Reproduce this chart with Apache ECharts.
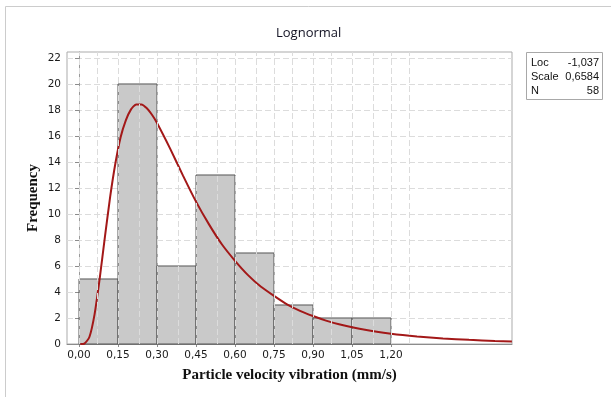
<!DOCTYPE html>
<html>
<head>
<meta charset="utf-8">
<script src="https://cdn.jsdelivr.net/npm/echarts@6/dist/echarts.min.js"></script>
<style>
  html, body { margin: 0; padding: 0; background: #fff; }
  #chart { width: 611px; height: 397px; }
</style>
</head>
<body>
<div id="chart"></div>
<script>
// histogram bins (mm/s) and counts
const binEdges = [0, 0.15, 0.30, 0.45, 0.60, 0.75, 0.90, 1.05, 1.20];
const binCounts = [5, 20, 6, 13, 7, 3, 2, 2];

// fitted lognormal curve
const curveX = [0.005, 0.02, 0.04, 0.06, 0.08, 0.10, 0.12, 0.14, 0.16, 0.18, 0.20, 0.22, 0.24, 0.26, 0.28, 0.30,
  0.35, 0.40, 0.45, 0.50, 0.55, 0.60, 0.65, 0.70, 0.75, 0.80, 0.85, 0.90, 0.95, 1.00, 1.10, 1.20, 1.30, 1.40, 1.50, 1.60, 1.665];
const curveY = [0, 0.02, 0.54, 2.3, 5.1, 8.3, 11.35, 13.9, 15.9, 17.2, 18.05, 18.43, 18.43, 18.15, 17.65, 17.0,
  15.05, 12.95, 10.95, 9.2, 7.65, 6.4, 5.3, 4.4, 3.7, 3.05, 2.55, 2.15, 1.8, 1.52, 1.09, 0.79, 0.58, 0.43, 0.32, 0.24, 0.2];

const xTickValues = [0, 0.15, 0.30, 0.45, 0.60, 0.75, 0.90, 1.05, 1.20];
const xTickLabels = ["0,00", "0,15", "0,30", "0,45", "0,60", "0,75", "0,90", "1,05", "1,20"];
const yTickValues = [0, 2, 4, 6, 8, 10, 12, 14, 16, 18, 20, 22];

const statLabels = ["Loc", "Scale", "N"];
const statValues = ["-1,037", "0,6584", "58"];

const bars = binCounts.map((c, i) => [binEdges[i], binEdges[i + 1], c]);
const curve = curveX.map((x, i) => [x, curveY[i]]);

// dashed vertical grid every 0.075 up to 1.275
const vGrid = [];
for (let i = 0; i <= 17; i++) vGrid.push({ xAxis: +(i * 0.075).toFixed(3) });

const TICK_FONT = "DejaVu Sans";
const gridStyle = { color: "#dcdcdc", type: [6, 3], width: 1 };

const chart = echarts.init(document.getElementById("chart"), null, { renderer: "canvas" });

chart.setOption({
  animation: false,
  backgroundColor: "#fff",
  title: {
    text: "Lognormal",
    left: 271,
    top: 22,
    textStyle: { fontFamily: "Open Sans", fontSize: 13, fontWeight: "normal", color: "#111122" }
  },
  grid: {
    left: 67, top: 52, right: 99, bottom: 53,
    show: true, borderColor: "#ababab", borderWidth: 1
  },
  xAxis: {
    type: "value",
    min: -0.0462,
    max: 1.6654,
    name: "Particle velocity vibration (mm/s)",
    nameLocation: "middle",
    nameGap: 24,
    nameMoveOverlap: false,
    nameTextStyle: { fontFamily: "Liberation Serif", fontWeight: "bold", fontSize: 15, color: "#111" },
    axisLine: { show: true, lineStyle: { color: "#8c8c8c" } },
    axisTick: { show: true, length: 3, customValues: xTickValues, lineStyle: { color: "#8c8c8c" } },
    axisLabel: {
      customValues: xTickValues,
      margin: 6,
      fontFamily: TICK_FONT, fontSize: 10.5, color: "#1a1a1a",
      formatter: (v) => {
        const i = xTickValues.findIndex((t) => Math.abs(t - v) < 1e-6);
        return i >= 0 ? xTickLabels[i] : "";
      }
    },
    splitLine: { show: false }
  },
  yAxis: {
    type: "value",
    min: 0,
    max: 22.46,
    interval: 1,
    name: "Frequency",
    nameLocation: "middle",
    nameGap: 26,
    nameMoveOverlap: false,
    nameTextStyle: { fontFamily: "Liberation Serif", fontWeight: "bold", fontSize: 15, color: "#111" },
    axisLine: { show: true, lineStyle: { color: "#9a9a9a" } },
    axisTick: { show: true, length: 4, customValues: yTickValues, lineStyle: { color: "#8c8c8c" } },
    axisLabel: {
      customValues: yTickValues,
      margin: 6,
      fontFamily: TICK_FONT, fontSize: 10.5, color: "#1a1a1a"
    },
    splitLine: { show: true, lineStyle: gridStyle }
  },
  series: [
    {
      type: "line",
      z: 1,
      data: [[0, 0]],
      symbol: "none",
      lineStyle: { width: 0 },
      silent: true,
      markLine: {
        silent: true,
        symbol: "none",
        label: { show: false },
        lineStyle: gridStyle,
        data: vGrid
      }
    },
    {
      type: "custom",
      z: 2,
      data: bars,
      renderItem: (params, api) => {
        const p0 = api.coord([api.value(0), api.value(2)]);
        const p1 = api.coord([api.value(1), 0]);
        return {
          type: "rect",
          shape: { x: p0[0], y: p0[1], width: p1[0] - p0[0], height: p1[1] - p0[1] },
          style: { fill: "#c9c9c9", stroke: "#555555", lineWidth: 1 }
        };
      }
    },
    {
      type: "line",
      z: 3,
      data: curve,
      symbol: "none",
      smooth: 0.2,
      lineStyle: { color: "#a31818", width: 2 }
    }
  ],
  graphic: [
    {
      type: "rect",
      shape: { x: 5.5, y: 6.5, width: 700, height: 500 },
      style: { fill: "none", stroke: "#cccccc", lineWidth: 1 },
      silent: true
    },
    {
      type: "group",
      left: 526,
      top: 52,
      children: [
        {
          type: "rect",
          shape: { x: 0.5, y: 0.5, width: 76, height: 47 },
          style: { fill: "#fff", stroke: "#a8a8a8", lineWidth: 1 }
        }
      ].concat(statLabels.map((t, i) => ({
        type: "text",
        x: 5, y: 11 + i * 14,
        style: { text: t, fontFamily: "Liberation Sans", fontSize: 11, fill: "#111", textVerticalAlign: "middle" }
      }))).concat(statValues.map((t, i) => ({
        type: "text",
        x: 73, y: 11 + i * 14,
        style: { text: t, fontFamily: "Liberation Sans", fontSize: 11, fill: "#111", textAlign: "right", textVerticalAlign: "middle" }
      })))
    }
  ]
});
</script>
</body>
</html>
